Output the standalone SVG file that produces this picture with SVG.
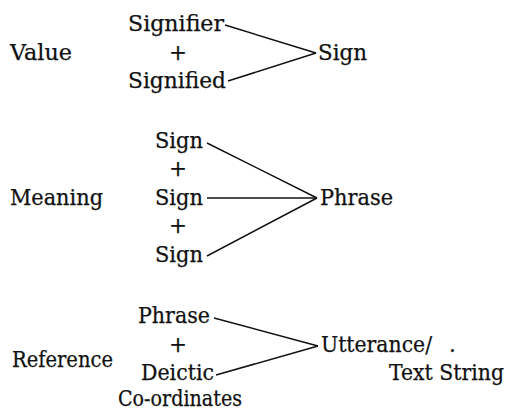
<svg xmlns="http://www.w3.org/2000/svg" width="514" height="412" viewBox="0 0 514 412">
<style>
text{font-family:"DejaVu Serif","Liberation Serif",serif;font-size:21.5px;fill:#111;stroke:#111;stroke-width:0.25}
.plus{text-anchor:middle}
.conn line{stroke:#111;stroke-width:1.5;fill:none}
</style>
<rect width="514" height="412" fill="#fff"/>
<g id="value">
<text x="10" y="60" textLength="62" lengthAdjust="spacingAndGlyphs">Value</text>
<text x="128" y="31" textLength="96" lengthAdjust="spacingAndGlyphs">Signifier</text>
<text class="plus" x="178" y="60">+</text>
<text x="128" y="88" textLength="98" lengthAdjust="spacingAndGlyphs">Signified</text>
<text x="318" y="60" textLength="49" lengthAdjust="spacingAndGlyphs">Sign</text>
</g>
<g id="meaning">
<text x="10" y="205" textLength="93" lengthAdjust="spacingAndGlyphs">Meaning</text>
<text x="155" y="148" textLength="48" lengthAdjust="spacingAndGlyphs">Sign</text>
<text class="plus" x="178" y="176">+</text>
<text x="155" y="205" textLength="48" lengthAdjust="spacingAndGlyphs">Sign</text>
<text class="plus" x="178" y="233">+</text>
<text x="155" y="262" textLength="48" lengthAdjust="spacingAndGlyphs">Sign</text>
<text x="320" y="205" textLength="73" lengthAdjust="spacingAndGlyphs">Phrase</text>
</g>
<g id="reference">
<text x="12" y="367" textLength="101" lengthAdjust="spacingAndGlyphs">Reference</text>
<text x="138" y="323" textLength="72" lengthAdjust="spacingAndGlyphs">Phrase</text>
<text class="plus" x="178" y="352">+</text>
<text x="141" y="380" textLength="73" lengthAdjust="spacingAndGlyphs">Deictic</text>
<text x="118" y="406" textLength="124" lengthAdjust="spacingAndGlyphs">Co-ordinates</text>
<text x="321" y="352" textLength="111" lengthAdjust="spacingAndGlyphs">Utterance/</text>
<text x="449" y="352">.</text>
<text x="389" y="380" textLength="115" lengthAdjust="spacingAndGlyphs">Text String</text>
</g>
<g id="connectors" class="conn">
<line x1="225" y1="25" x2="316" y2="53"/>
<line x1="228" y1="81" x2="316" y2="53"/>
<line x1="207" y1="143" x2="317" y2="198"/>
<line x1="207" y1="198" x2="317" y2="198"/>
<line x1="207" y1="256" x2="317" y2="198"/>
<line x1="214" y1="318" x2="318" y2="346"/>
<line x1="216" y1="375" x2="318" y2="346"/>
</g>
</svg>
